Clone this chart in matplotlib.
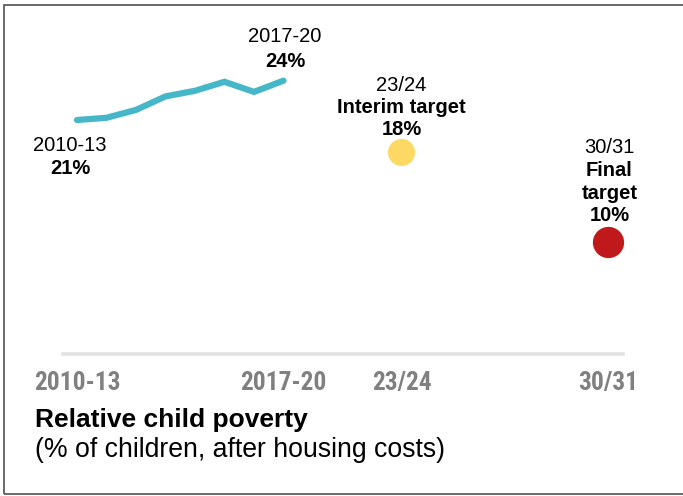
#!/usr/bin/env python3

from matplotlib import pyplot as plt
from matplotlib import font_manager
from matplotlib.font_manager import FontProperties
from matplotlib.patches import Rectangle

# Daten
years = ['2010-13', '2011-14', '2012-15', '2013-16', '2014-17', '2015-18', '2016-19', '2017-20']
line_x = [0, 1, 2, 3, 4, 5, 6, 7]
poverty = [20.8, 21.0, 21.7, 22.9, 23.4, 24.2, 23.3, 24.3]

interim_x = 11
interim_val = 18
final_x = 18
final_val = 10

tick_pos = [0, 7, 11, 18]
tick_labels = ['2010-13', '2017-20', '23/24', '30/31']

LINE_COL = '#45b7c9'
YELLOW = '#fdd963'
RED = '#c0191b'
GREY = '#808080'

FONT = 'Liberation Sans'

# schmale Schrift fuer die Achse, falls vorhanden
tick_font = {'family': FONT, 'fontsize': 16.5}
for fam in ['Liberation Sans Narrow', 'Arial Narrow', 'Roboto Condensed']:
    try:
        p = font_manager.findfont(FontProperties(family=fam, weight='bold'), fallback_to_default=False)
        if 'arrow' in p or 'ondensed' in p:
            tick_font = {'family': fam, 'fontsize': 18.3}
            break
    except Exception:
        pass

fig = plt.figure(figsize=(6.83, 4.96), dpi=100)
ax = fig.add_axes([63 / 683, 142 / 496, 560 / 683, 354 / 496])
ax.set_xlim(-0.475, 18.51)
ax.set_ylim(0, 31.47)

for s in ['top', 'left', 'right']:
    ax.spines[s].set_visible(False)
ax.spines['bottom'].set_color('#e3e3e3')
ax.spines['bottom'].set_linewidth(2.6)
ax.set_yticks([])
ax.set_xticks(tick_pos)
ax.set_xticklabels(tick_labels, fontweight='bold', color=GREY, **tick_font)
ax.tick_params(axis='x', length=0, pad=12)

# Linie + Zielpunkte
ax.plot(line_x, poverty, color=LINE_COL, linewidth=4.5, solid_capstyle='round',
        solid_joinstyle='miter', clip_on=False)
ax.plot(interim_x, interim_val, 'o', color=YELLOW, markersize=19.5, markeredgewidth=0, clip_on=False)
ax.plot(final_x, final_val, 'o', color=RED, markersize=22.5, markeredgewidth=0, clip_on=False)


def label(x, y, txt, dx, dy, bold=False):
    ax.annotate(txt, xy=(x, y), xytext=(dx, dy), textcoords='offset points',
                ha='center', va='center', fontsize=14.5, family=FONT,
                fontweight='bold' if bold else 'normal', annotation_clip=False)


label(line_x[0], poverty[0], years[0], -5, -18)
label(line_x[0], poverty[0], '21%', -5, -34.6, True)
label(line_x[-1], poverty[-1], years[-1], 1, 31.7)
label(line_x[-1], poverty[-1], '24%', 1, 13.7, True)

label(interim_x, interim_val, tick_labels[2], 0, 47.5)
label(interim_x, interim_val, 'Interim target', 0, 31.7, True)
label(interim_x, interim_val, '18%', 0, 15.8, True)

label(final_x, final_val, tick_labels[3], 1, 67.7)
label(final_x, final_val, 'Final', 1, 51.1, True)
label(final_x, final_val, 'target', 1, 34.6, True)
label(final_x, final_val, '10%', 1, 18.7, True)

# Titel
fig.text(35 / 683, 1 - 427 / 496, 'Relative child poverty', family=FONT, fontweight='bold',
         fontsize=19, va='baseline', ha='left')
fig.text(35 / 683, 1 - 457 / 496, '(% of children, after housing costs)', family=FONT,
         fontsize=19.2, va='baseline', ha='left')

# Rahmen
fig.patches.append(Rectangle((4 / 683, 2 / 496), 1.0, 489 / 496, fill=False,
                             edgecolor='#505050', linewidth=1.2, transform=fig.transFigure))

fig.savefig('out.png', dpi=100)
plt.close()
